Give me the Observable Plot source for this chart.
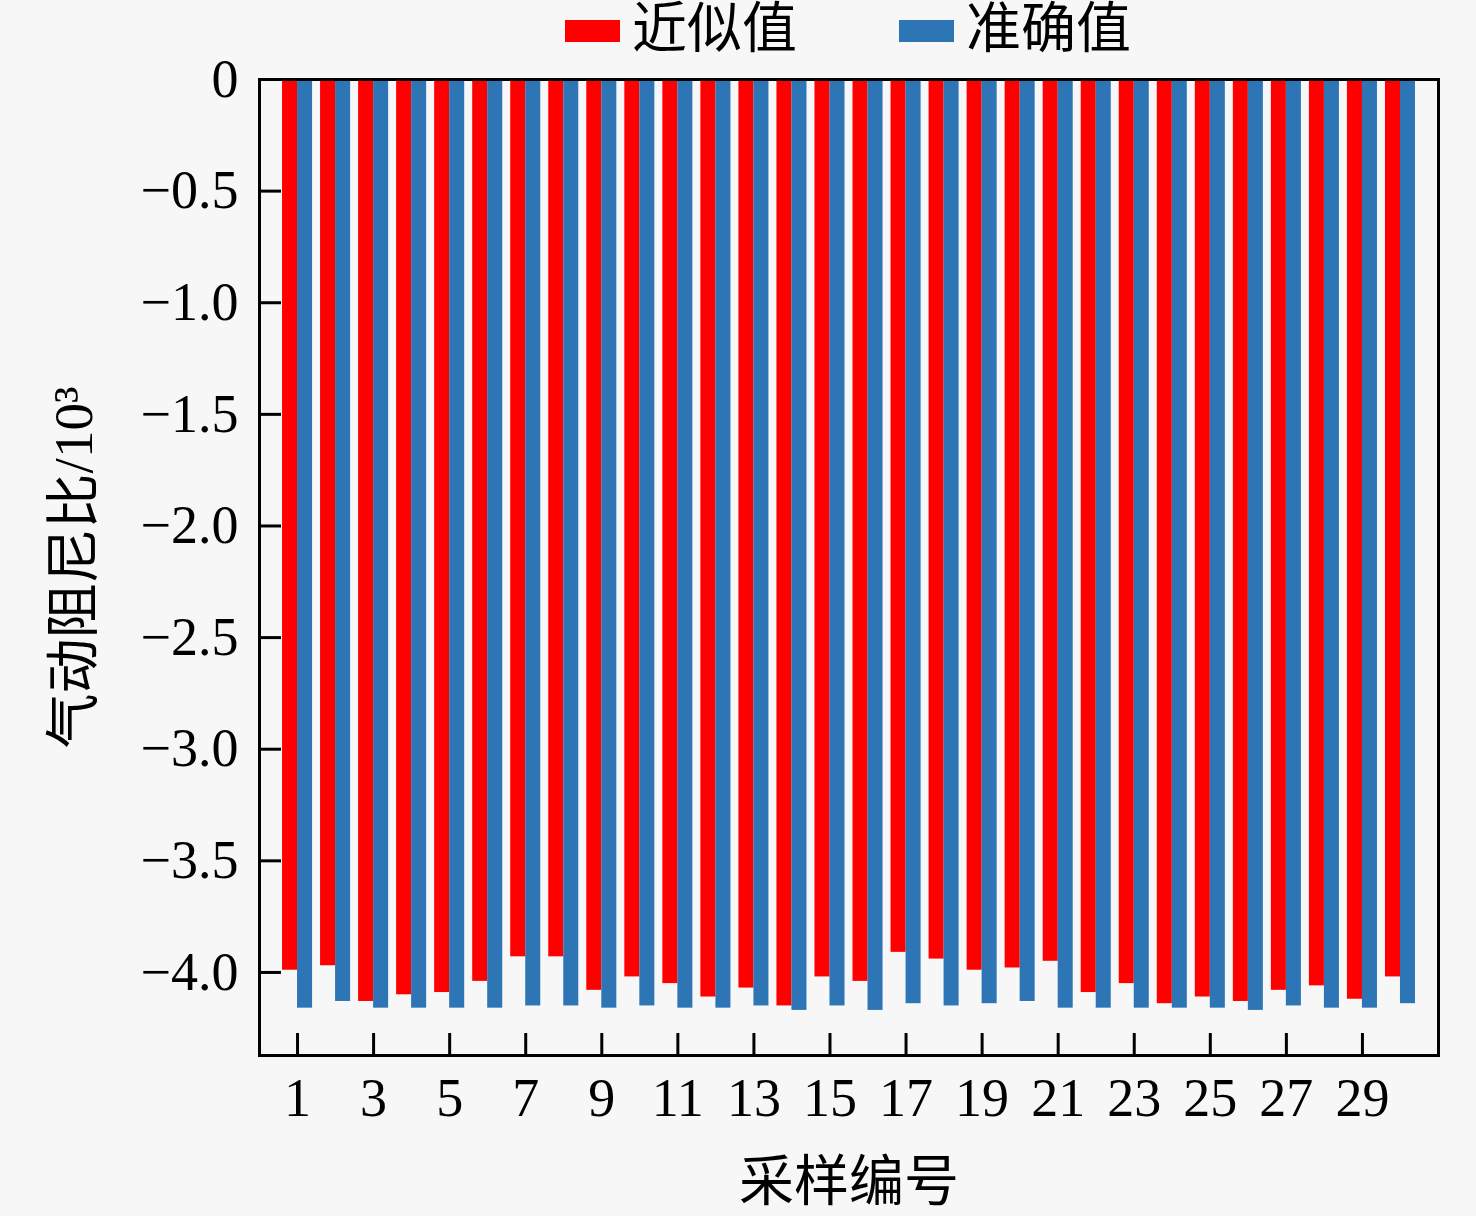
<!DOCTYPE html>
<html>
<head>
<meta charset="utf-8">
<script src="https://cdn.jsdelivr.net/npm/d3@7"></script>
<script src="https://cdn.jsdelivr.net/npm/@observablehq/plot@0.6"></script>
<style>
  html, body { margin: 0; padding: 0; background: #f7f7f7; }
  #legend { height: 44px; display: flex; justify-content: center; align-items: center;
    position: relative; top: 6px; padding-left: 220px; box-sizing: border-box; overflow: visible;
    font-family: "Liberation Serif", "Noto Sans CJK SC", serif; font-size: 55px; line-height: 1; color: #000; }
  .item { display: flex; align-items: center; }
  .sw { width: 55px; height: 22px; margin-right: 12px; margin-top: 6px; }
  .gap { width: 102px; }
</style>
</head>
<body>
<div id="legend"></div>
<div id="chart"></div>
<script>
const samples = d3.range(1, 31);
const approxValues = [
  -3.99, -3.97, -4.13, -4.10, -4.09, -4.04, -3.93, -3.93, -4.08, -4.02,
  -4.05, -4.11, -4.07, -4.15, -4.02, -4.04, -3.91, -3.94, -3.99, -3.98,
  -3.95, -4.09, -4.05, -4.14, -4.11, -4.13, -4.08, -4.06, -4.12, -4.02
];
const exactValues = [
  -4.16, -4.13, -4.16, -4.16, -4.16, -4.16, -4.15, -4.15, -4.16, -4.15,
  -4.16, -4.16, -4.15, -4.17, -4.15, -4.17, -4.14, -4.15, -4.14, -4.13,
  -4.16, -4.16, -4.16, -4.16, -4.16, -4.17, -4.15, -4.16, -4.16, -4.14
];
const seriesNames = ["近似值", "准确值"];
const seriesColors = ["#ff0000", "#2e75b6"];
const xTicks = [1, 3, 5, 7, 9, 11, 13, 15, 17, 19, 21, 23, 25, 27, 29];
const yTicks = [0, -0.5, -1.0, -1.5, -2.0, -2.5, -3.0, -3.5, -4.0];
const yLabel = "气动阻尼比/10³";
const xLabel = "采样编号";

const approx = samples.map((s, i) => ({sample: s, value: approxValues[i]}));
const exact = samples.map((s, i) => ({sample: s, value: exactValues[i]}));

// legend
const legend = document.getElementById("legend");
seriesNames.forEach((name, i) => {
  if (i > 0) { const g = document.createElement("div"); g.className = "gap"; legend.appendChild(g); }
  const item = document.createElement("div"); item.className = "item";
  const sw = document.createElement("div"); sw.className = "sw"; sw.style.background = seriesColors[i];
  const t = document.createElement("span"); t.textContent = name;
  item.appendChild(sw); item.appendChild(t); legend.appendChild(item);
});

const W = 1476, H = 1172;
const mL = 259, mR = 38, mT = 35, mB = 161;
const fw = W - mL - mR, fh = H - mT - mB;
const fmt = d3.format(".1f");
const cjk = "Liberation Serif, Noto Sans CJK SC, serif";

const plot = Plot.plot({
  width: W, height: H,
  marginLeft: mL, marginRight: mR, marginTop: mT, marginBottom: mB,
  style: {fontFamily: "Liberation Serif, Times New Roman, serif", fontSize: "54px", background: "transparent", color: "#000", overflow: "visible"},
  x: {type: "linear", domain: [0, 31], ticks: xTicks, tickSize: 0, tickPadding: 22, tickFormat: d => String(d), label: null},
  y: {domain: [-4.372, 0], ticks: yTicks, tickSize: 0, tickPadding: 21, tickFormat: d => d === 0 ? "0" : fmt(d), label: null},
  marks: [
    Plot.rectY(approx, {x: "sample", interval: 1, y: "value", fill: seriesColors[0], dx: -19, insetLeft: 4, insetRight: 19}),
    Plot.rectY(exact, {x: "sample", interval: 1, y: "value", fill: seriesColors[1], dx: -19, insetLeft: 19, insetRight: 4}),
    Plot.tickX(xTicks, {x: d => d, insetTop: fh - 22, stroke: "#000", strokeWidth: 3}),
    Plot.tickY(yTicks, {y: d => d, insetRight: fw - 22, stroke: "#000", strokeWidth: 3}),
    Plot.frame({stroke: "#000", strokeWidth: 3}),
    Plot.text([xLabel], {frameAnchor: "bottom", lineAnchor: "middle", textAnchor: "middle", dy: 127, fontSize: 55, fontFamily: cjk, fill: "#000"}),
    Plot.text([yLabel], {frameAnchor: "left", lineAnchor: "middle", textAnchor: "middle", dx: -185, rotate: -90, fontSize: 55, fontFamily: cjk, fill: "#000"})
  ]
});
document.getElementById("chart").appendChild(plot);
</script>
</body>
</html>
